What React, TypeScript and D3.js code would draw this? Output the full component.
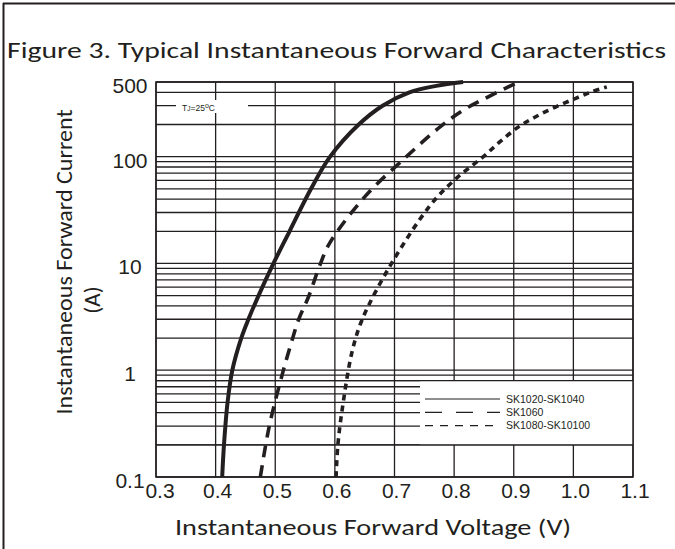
import * as d3 from "d3";

// forward characteristics (V, A)
const sk1040V = [0.411, 0.414, 0.42, 0.428, 0.443, 0.455, 0.472, 0.497, 0.524, 0.56, 0.592, 0.64, 0.68, 0.725, 0.77, 0.815];
const sk1040I = [0.1, 0.2, 0.5, 1, 2, 3, 5, 10, 20, 50, 100, 200, 300, 400, 460, 500];

const sk1060V = [0.475, 0.49, 0.513, 0.525, 0.539, 0.556, 0.575, 0.591, 0.65, 0.72, 0.777, 0.816, 0.858, 0.908];
const sk1060I = [0.1, 0.3, 0.97, 1.66, 2.96, 4.9, 9.7, 15.4, 42, 100, 191, 274, 365, 500];

const sk10100V = [0.602, 0.605, 0.614, 0.629, 0.646, 0.695, 0.76, 0.8, 0.849, 0.877, 0.908, 0.936, 0.969, 1.003, 1.031, 1.056];
const sk10100I = [0.1, 0.2, 0.5, 1.5, 3, 10, 35, 60, 100, 138, 190, 235, 290, 350, 405, 450];

const seriesNames = ["SK1020-SK1040", "SK1060", "SK1080-SK10100"];

const xTicks = [0.3, 0.4, 0.5, 0.6, 0.7, 0.8, 0.9, 1.0, 1.1];
const xTickLabels = ["0.3", "0.4", "0.5", "0.6", "0.7", "0.8", "0.9", "1.0", "1.1"];
const yTicks = [0.1, 1, 10, 100, 500];
const yTickLabels = ["0.1", "1", "10", "100", "500"];

const INK = "#231f20";
const BOUNDS = { left: 156, right: 633, top: 82, bottom: 477 };

export default function App() {
  const xScale = d3.scaleLinear().domain([0.3, 1.1]).range([BOUNDS.left, BOUNDS.right]);
  const yScale = d3.scaleLog().domain([0.1, 500]).range([BOUNDS.bottom, BOUNDS.top]);

  const line = d3
    .line<[number, number]>()
    .x((d) => xScale(d[0]))
    .y((d) => yScale(d[1]))
    .curve(d3.curveCatmullRom.alpha(0.5));

  const zip = (v: number[], i: number[]) => v.map((d, k) => [d, i[k]] as [number, number]);

  const curves = [
    { pts: zip(sk1040V, sk1040I), dash: undefined as string | undefined },
    { pts: zip(sk1060V, sk1060I), dash: "12,8" },
    { pts: zip(sk10100V, sk10100I), dash: "6,5" },
  ];
  const legendDash = [undefined, "17,14", "8,7"];

  const hGrid = yScale.ticks();
  const boxTop = yScale(0.8);
  const boxBottom = yScale(0.2);

  return (
    <svg
      width={675}
      height={549}
      style={{ position: "absolute", left: 0, top: 0, background: "#fff" }}
    >
      {/* frame (left + top only) */}
      <line x1={3.5} y1={3} x2={3.5} y2={549} stroke={INK} strokeWidth={2} />
      <line x1={3} y1={3.5} x2={675} y2={3.5} stroke={INK} strokeWidth={2} />

      <text
        x={7}
        y={58}
        fontFamily="Carlito, 'Open Sans', sans-serif"
        fontSize={23}
        fill={INK}
        textLength={659}
        lengthAdjust="spacingAndGlyphs"
      >
        Figure 3. Typical Instantaneous Forward Characteristics
      </text>

      {/* grid */}
      <g stroke={INK} strokeWidth={1.3}>
        {hGrid.map((t, i) => (
          <line key={"h" + i} x1={BOUNDS.left} x2={BOUNDS.right} y1={yScale(t)} y2={yScale(t)} />
        ))}
        {xTicks.map((t, i) => (
          <line key={"v" + i} x1={xScale(t)} x2={xScale(t)} y1={BOUNDS.top} y2={BOUNDS.bottom} />
        ))}
      </g>

      {/* TJ note */}
      <rect x={176} y={100} width={72} height={13} fill="#fff" />
      <text x={182} y={111} fontFamily="'Liberation Sans', Arial, sans-serif" fontSize={8.5} fill={INK}>
        T<tspan fontSize={6.5}>J</tspan>=25<tspan fontSize={7} dy={-3}>o</tspan>
        <tspan dy={3}>C</tspan>
      </text>

      {/* legend: white box over the grid, no side border */}
      <rect x={420} y={boxTop} width={BOUNDS.right - 420} height={boxBottom - boxTop} fill="#fff" />
      <line x1={BOUNDS.left} x2={BOUNDS.right} y1={boxTop} y2={boxTop} stroke={INK} strokeWidth={1.3} />
      <line x1={BOUNDS.left} x2={BOUNDS.right} y1={boxBottom} y2={boxBottom} stroke={INK} strokeWidth={1.3} />
      {seriesNames.map((name, i) => {
        const cy = 399 + i * 13.3;
        return (
          <g key={name}>
            <line x1={425} x2={500} y1={cy} y2={cy} stroke={INK} strokeWidth={1.2} strokeDasharray={legendDash[i]} />
            <text x={506} y={cy + 3.8} fontFamily="'Liberation Sans', Arial, sans-serif" fontSize={10.5} fill={INK}>
              {name}
            </text>
          </g>
        );
      })}

      {/* curves */}
      {curves.map((c, i) => (
        <path
          key={i}
          d={line(c.pts) || ""}
          fill="none"
          stroke={INK}
          strokeWidth={i === 0 ? 4 : 3.6}
          strokeDasharray={c.dash}
        />
      ))}

      {/* plot border */}
      <rect
        x={BOUNDS.left}
        y={BOUNDS.top}
        width={BOUNDS.right - BOUNDS.left}
        height={BOUNDS.bottom - BOUNDS.top}
        fill="none"
        stroke={INK}
        strokeWidth={1.5}
      />

      {/* tick labels */}
      <g fontFamily="'Liberation Sans', Arial, sans-serif" fontSize={21} fill={INK}>
        {yTicks.map((t, i) => (
          <text key={"y" + i} x={130} y={yScale(t) + 11} textAnchor="middle">
            {yTickLabels[i]}
          </text>
        ))}
        {xTicks.map((t, i) => (
          <text key={"x" + i} x={xScale(t) + (i === 0 ? 4 : 2)} y={498} textAnchor="middle">
            {xTickLabels[i]}
          </text>
        ))}
      </g>

      {/* axis titles */}
      <text
        x={373}
        y={535}
        textAnchor="middle"
        fontFamily="Carlito, 'Open Sans', sans-serif"
        fontSize={23}
        fill={INK}
        textLength={396}
        lengthAdjust="spacingAndGlyphs"
      >
        Instantaneous Forward Voltage (V)
      </text>
      <text
        transform="translate(72,262) rotate(-90)"
        textAnchor="middle"
        fontFamily="Carlito, 'Open Sans', sans-serif"
        fontSize={23}
        fill={INK}
        textLength={305}
        lengthAdjust="spacingAndGlyphs"
      >
        Instantaneous Forward Current
      </text>
      <text
        transform="translate(100,300) rotate(-90)"
        textAnchor="middle"
        fontFamily="Carlito, 'Open Sans', sans-serif"
        fontSize={23}
        fill={INK}
      >
        (A)
      </text>
    </svg>
  );
}
